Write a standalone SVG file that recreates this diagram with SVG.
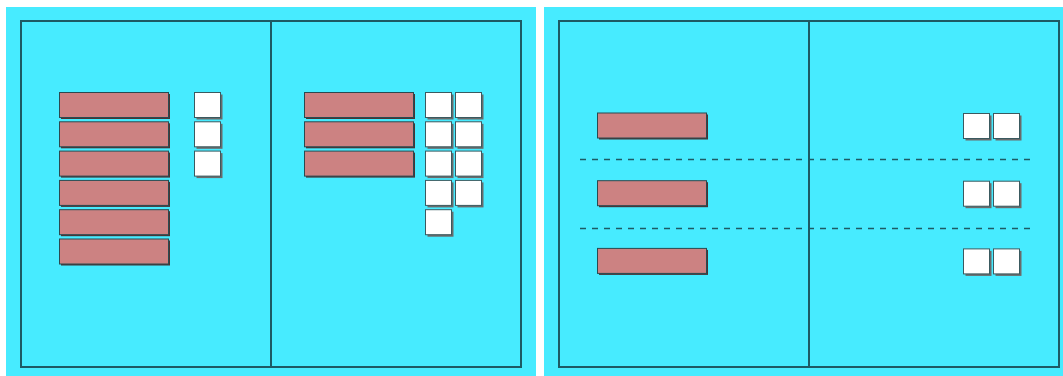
<svg xmlns="http://www.w3.org/2000/svg" width="1063" height="376" viewBox="0 0 1063 376">
<style>
.panel{fill:#47ebff}
.frame{fill:none;stroke:#1d5a64;stroke-width:2}
.div{stroke:#1d5a64;stroke-width:2}
.dash{stroke:#1d5a64;stroke-width:1.5;stroke-dasharray:6 6}
.bar{fill:#cc8282;stroke:#2a4a50;stroke-width:1}
.barsh{fill:#4a3434}
.sq{fill:#ffffff;stroke:#3a5a60;stroke-width:1}
.sqsh{fill:#6a6a6a}
</style>
<defs>
<g id="bar"><rect class="barsh" x="1.5" y="1.5" width="109" height="25"/><rect class="bar" x="0" y="0" width="109" height="25"/></g>
<g id="sq"><rect class="sqsh" x="2" y="2" width="26" height="25"/><rect class="sq" x="0" y="0" width="26" height="25"/></g>
</defs>
<rect width="1063" height="376" fill="#ffffff"/>
<g id="panel-left">
<rect class="panel" x="6" y="7" width="530" height="369"/>
<rect class="frame" x="21" y="21" width="500" height="346"/>
<line class="div" x1="271" y1="21" x2="271" y2="367"/>
</g>
<g id="panel-right">
<rect class="panel" x="544" y="7" width="519" height="369"/>
<rect class="frame" x="559" y="21" width="500" height="346"/>
<line class="div" x1="809" y1="21" x2="809" y2="367"/>
</g>
<g id="connectors">
<line class="dash" x1="580" y1="159.5" x2="1036" y2="159.5"/>
<line class="dash" x1="580" y1="228.5" x2="1036" y2="228.5"/>
</g>
<g id="left-bars">
<use href="#bar" x="59.5" y="92.5"/>
<use href="#bar" x="59.5" y="121.8"/>
<use href="#bar" x="59.5" y="151.1"/>
<use href="#bar" x="59.5" y="180.4"/>
<use href="#bar" x="59.5" y="209.7"/>
<use href="#bar" x="59.5" y="239"/>
</g>
<g id="left-squares">
<use href="#sq" x="194.5" y="92.5"/>
<use href="#sq" x="194.5" y="121.8"/>
<use href="#sq" x="194.5" y="151.1"/>
</g>
<g id="mid-bars">
<use href="#bar" x="304.5" y="92.5"/>
<use href="#bar" x="304.5" y="121.8"/>
<use href="#bar" x="304.5" y="151.1"/>
</g>
<g id="mid-squares">
<use href="#sq" x="425.5" y="92.5"/>
<use href="#sq" x="455.5" y="92.5"/>
<use href="#sq" x="425.5" y="121.8"/>
<use href="#sq" x="455.5" y="121.8"/>
<use href="#sq" x="425.5" y="151.1"/>
<use href="#sq" x="455.5" y="151.1"/>
<use href="#sq" x="425.5" y="180.4"/>
<use href="#sq" x="455.5" y="180.4"/>
<use href="#sq" x="425.5" y="209.7"/>
</g>
<g id="right-bars">
<use href="#bar" x="597.5" y="113"/>
<use href="#bar" x="597.5" y="180.7"/>
<use href="#bar" x="597.5" y="248.4"/>
</g>
<g id="right-squares">
<use href="#sq" x="963.5" y="113.5"/>
<use href="#sq" x="993.5" y="113.5"/>
<use href="#sq" x="963.5" y="181.2"/>
<use href="#sq" x="993.5" y="181.2"/>
<use href="#sq" x="963.5" y="248.9"/>
<use href="#sq" x="993.5" y="248.9"/>
</g>
</svg>
